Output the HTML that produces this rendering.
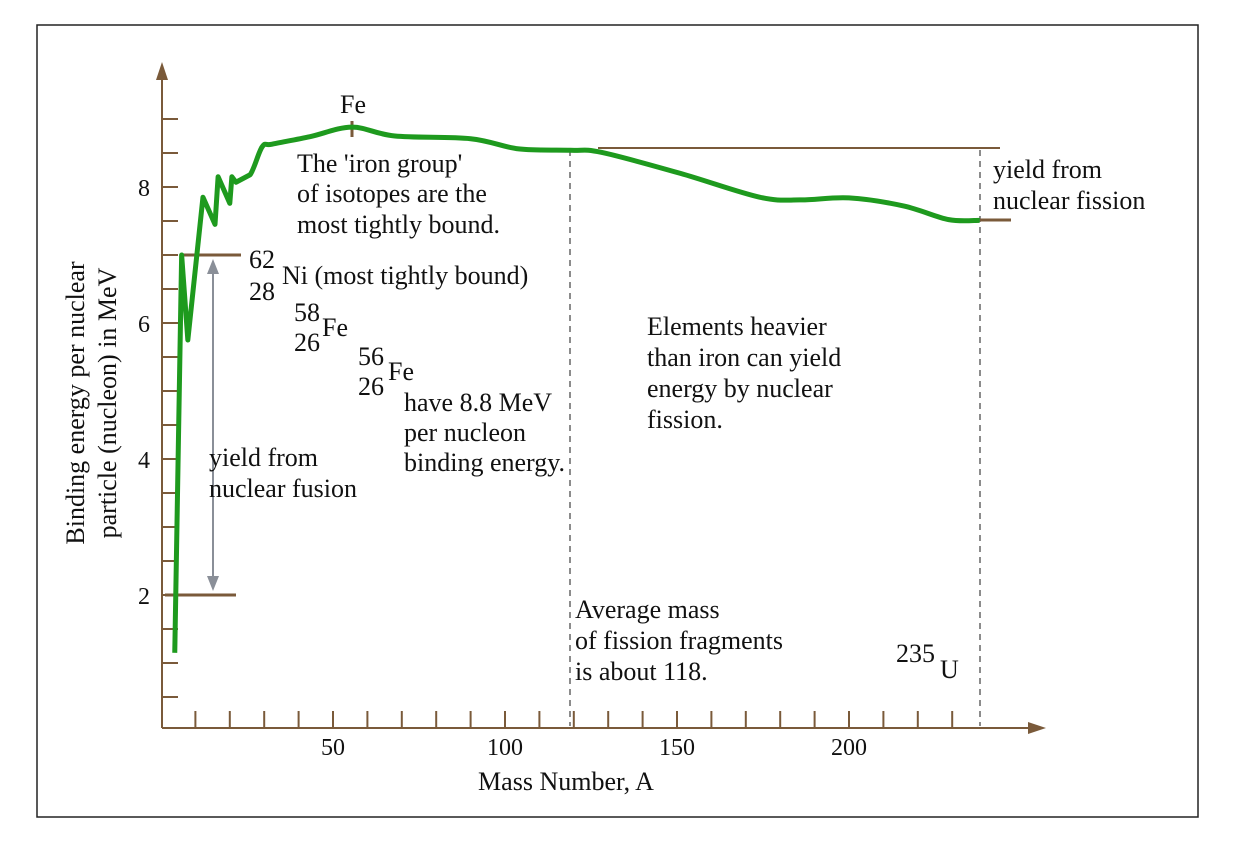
<!DOCTYPE html>
<html><head><meta charset="utf-8"><style>
html,body{margin:0;padding:0;background:#fff;}
svg text{font-family:"Liberation Serif",serif;fill:#111;}
</style></head><body>
<svg width="1234" height="842" viewBox="0 0 1234 842">
<rect x="37" y="25" width="1161" height="792" fill="none" stroke="#222" stroke-width="1.5"/>
<g id="axes"></g>
<g id="annot">
<line x1="598" y1="148" x2="1000" y2="148" stroke="#7a5a3a" stroke-width="2"/>
<line x1="570" y1="150" x2="570" y2="726" stroke="#666" stroke-width="1.5" stroke-dasharray="6,5"/>
<line x1="980" y1="150" x2="980" y2="726" stroke="#666" stroke-width="1.5" stroke-dasharray="6,5"/>
<line x1="980" y1="220" x2="1011" y2="220" stroke="#7a5a3a" stroke-width="3"/>
<line x1="180" y1="255" x2="241" y2="255" stroke="#7a5a3a" stroke-width="3"/>
<line x1="165" y1="595" x2="236" y2="595" stroke="#7a5a3a" stroke-width="3"/>
<line x1="213" y1="272" x2="213" y2="578" stroke="#8a8f98" stroke-width="2"/>
<polygon points="213,259 207,274 219,274" fill="#8a8f98"/>
<polygon points="213,591 207,576 219,576" fill="#8a8f98"/>
<line x1="352" y1="121" x2="352" y2="137" stroke="#7a5a3a" stroke-width="3"/>
</g>
<path id="curve" fill="none" stroke="#1e9a1e" stroke-width="5" stroke-linejoin="round"/>
<g font-size="26" transform="translate(0,3)">
<text x="340" y="110">Fe</text>
<text x="297" y="169">The 'iron group'</text>
<text x="297" y="199">of isotopes are the</text>
<text x="297" y="230">most tightly bound.</text>
<text x="249" y="265">62</text>
<text x="249" y="297">28</text>
<text x="282" y="281">Ni  (most tightly bound)</text>
<text x="294" y="318">58</text>
<text x="294" y="348">26</text>
<text x="322" y="333">Fe</text>
<text x="358" y="362">56</text>
<text x="358" y="392">26</text>
<text x="388" y="377">Fe</text>
<text x="404" y="408">have 8.8 MeV</text>
<text x="404" y="438">per nucleon</text>
<text x="404" y="468">binding energy.</text>
<text x="647" y="332">Elements heavier</text>
<text x="647" y="363">than iron can yield</text>
<text x="647" y="394">energy by nuclear</text>
<text x="647" y="425">fission.</text>
<text x="209" y="463">yield from</text>
<text x="209" y="494">nuclear fusion</text>
<text x="575" y="615">Average mass</text>
<text x="575" y="646">of fission fragments</text>
<text x="575" y="677">is about 118.</text>
<text x="896" y="659">235</text>
<text x="940" y="675">U</text>
<text x="993" y="175">yield from</text>
<text x="993" y="206">nuclear fission</text>
<text x="566" y="787" text-anchor="middle">Mass Number, A</text>
<text transform="translate(84,400) rotate(-90)" text-anchor="middle">Binding energy per nuclear</text>
<text transform="translate(116,400) rotate(-90)" text-anchor="middle">particle (nucleon) in MeV</text>
</g>
</svg>
<script>
const massNumbers=[4,6,7.8,12.2,15.7,16.6,20,20.6,21.8,25.9,29.4,32.3,43.3,55.5,68,90,104,119,128,151,174,186,200,216,229,238];
const bindingEnergies=[1.15,7.0,5.75,7.85,7.45,8.15,7.76,8.15,8.07,8.18,8.59,8.63,8.74,8.88,8.75,8.71,8.56,8.54,8.51,8.2,7.85,7.81,7.84,7.72,7.52,7.51];
const xTickLabels=[50,100,150,200];
const yTickLabels=[2,4,6,8];
const X=a=>161+3.44*a;
const Y=v=>731-68*v;
const NS="http://www.w3.org/2000/svg";
const axes=document.getElementById('axes');
function mk(tag,attrs){const e=document.createElementNS(NS,tag);for(const k in attrs)e.setAttribute(k,attrs[k]);return e;}
let e;
e=mk('line',{x1:162,y1:728,x2:162,y2:78,stroke:'#7a5a3a','stroke-width':2});


axes.appendChild(e);
e=mk('polygon',{points:'162,62 156,80 168,80',fill:'#7a5a3a'});


axes.appendChild(e);
e=mk('line',{x1:162,y1:728,x2:1032,y2:728,stroke:'#7a5a3a','stroke-width':2});


axes.appendChild(e);
e=mk('polygon',{points:'1046,728 1028,722 1028,734',fill:'#7a5a3a'});


axes.appendChild(e);
for(let v=0.5;v<=9.01;v+=0.5){
  e=mk('line',{x1:162,x2:178,y1:Y(v),y2:Y(v),stroke:'#7a5a3a','stroke-width':2});
  
  
  axes.appendChild(e);
}
for(let a=10;a<=230;a+=10){
  e=mk('line',{x1:X(a),x2:X(a),y1:711,y2:728,stroke:'#7a5a3a','stroke-width':2});
  
  
  axes.appendChild(e);
}
yTickLabels.forEach(v=>{
  const t=mk('text',{x:150,y:Y(v)+9,'text-anchor':'end','font-size':24});
  t.textContent=v;
  
  
  axes.appendChild(t);
});
xTickLabels.forEach(a=>{
  const t=mk('text',{x:X(a),y:755,'text-anchor':'middle','font-size':24});
  t.textContent=a;
  
  
  axes.appendChild(t);
});
let d='M'+X(massNumbers[0])+','+Y(bindingEnergies[0]);
const pts=massNumbers.map((a,i)=>[X(a),Y(bindingEnergies[i])]);
for(let i=1;i<pts.length;i++){
  if(i<10){d+=' L'+pts[i][0]+','+pts[i][1];}
  else{
    const p0=pts[Math.max(i-2,0)],p1=pts[i-1],p2=pts[i],p3=pts[Math.min(i+1,pts.length-1)];
    const c1=[p1[0]+(p2[0]-p0[0])/6,p1[1]+(p2[1]-p0[1])/6];
    const c2=[p2[0]-(p3[0]-p1[0])/6,p2[1]-(p3[1]-p1[1])/6];
    d+=' C'+c1[0]+','+c1[1]+' '+c2[0]+','+c2[1]+' '+p2[0]+','+p2[1];
  }
}
document.getElementById('curve').setAttribute('d',d);
</script>
</body></html>
